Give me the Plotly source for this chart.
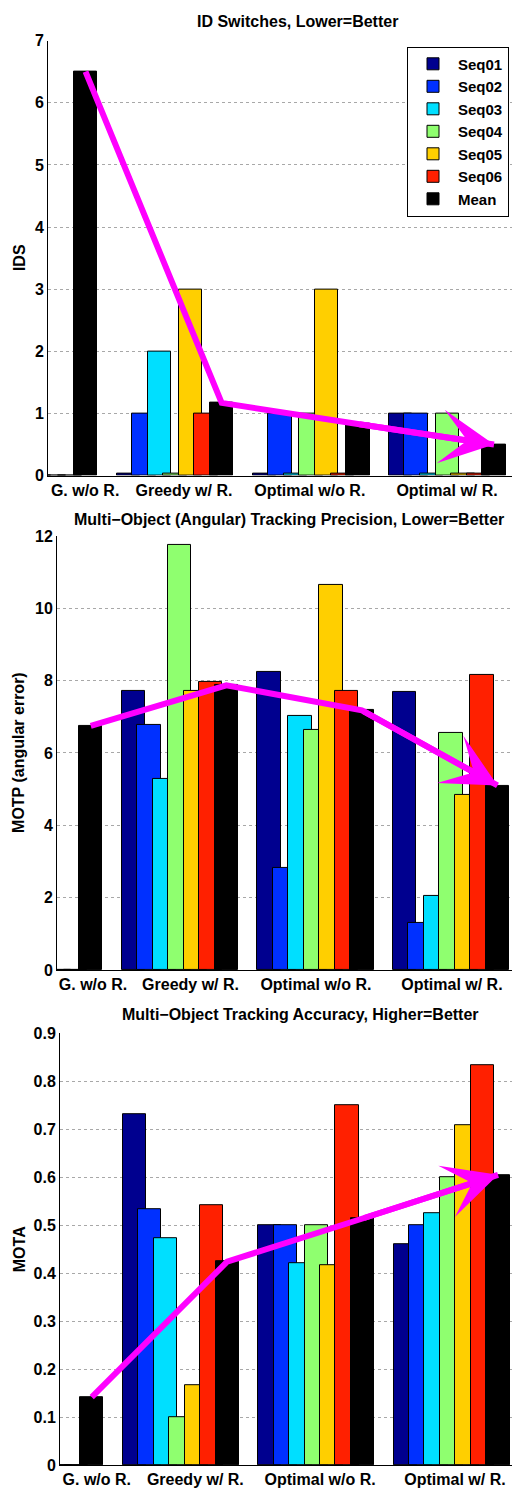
import plotly.graph_objects as go

# ---------------- data ----------------
groups = ["G. w/o R.", "Greedy w/ R.", "Optimal w/o R.", "Optimal w/ R."]
series = ["Seq01", "Seq02", "Seq03", "Seq04", "Seq05", "Seq06", "Mean"]
colors = ["#00008F", "#0030FF", "#00DFFF", "#8FFF6F", "#FFCF00", "#FF2000", "#000000"]

# ID switches (one row per series, one value per group)
ids_seq01 = [0, 0.03, 0.03, 1]
ids_seq02 = [0, 1, 1, 1]
ids_seq03 = [0, 2, 0.03, 0.03]
ids_seq04 = [0, 0.03, 1, 1]
ids_seq05 = [0, 3, 3, 0.03]
ids_seq06 = [0, 1, 0.03, 0.03]
ids_mean = [6.5, 1.17, 0.83, 0.5]

# MOTP (angular error)
motp_seq01 = [0, 7.71, 8.24, 7.69]
motp_seq02 = [0, 6.78, 2.83, 1.31]
motp_seq03 = [0, 5.29, 7.03, 2.05]
motp_seq04 = [0, 11.76, 6.64, 6.56]
motp_seq05 = [0, 7.72, 10.65, 4.84]
motp_seq06 = [0, 7.96, 7.71, 8.15]
motp_mean = [6.75, 7.87, 7.18, 5.10]

# MOTA
mota_seq01 = [0, 0.731, 0.50, 0.461]
mota_seq02 = [0, 0.533, 0.50, 0.50]
mota_seq03 = [0, 0.473, 0.42, 0.526]
mota_seq04 = [0, 0.0995, 0.50, 0.60]
mota_seq05 = [0, 0.166, 0.416, 0.708]
mota_seq06 = [0, 0.5416, 0.75, 0.833]
mota_mean = [0.142, 0.424, 0.514, 0.605]

ids_rows = [ids_seq01, ids_seq02, ids_seq03, ids_seq04, ids_seq05, ids_seq06, ids_mean]
motp_rows = [motp_seq01, motp_seq02, motp_seq03, motp_seq04, motp_seq05, motp_seq06, motp_mean]
mota_rows = [mota_seq01, mota_seq02, mota_seq03, mota_seq04, mota_seq05, mota_seq06, mota_mean]

# ---------------- figure ----------------
W, H = 512, 1494
FONT = "Liberation Sans, Arial, Helvetica, sans-serif"
xpos = [1, 2, 3, 4]
n = len(series)
step = 0.8 / n
bw = 0.172
mean_off = (n - 1 - (n - 1) / 2) * step

fig = go.Figure()

panels = [
    dict(rows=ids_rows, ax="", title="ID Switches, Lower=Better", ytitle="IDS",
         xl=48, xr=[1.0675, 4.475], yt=33, yb=473, yr=[0, 7], yt_vals=list(range(0, 8)),
         shifts=[0.34, 0.066, -0.01, -0.002], tc=(297.5, 14)),
    dict(rows=motp_rows, ax="2", title="Multi\u2212Object (Angular) Tracking Precision, Lower=Better",
         ytitle="MOTP (angular error)",
         xl=57, xr=[1.094, 4.45], yt=534, yb=973, yr=[0, 12], yt_vals=list(range(0, 13, 2)),
         shifts=[0.36, 0.079, 0.004, 0.007], tc=(288.5, 517)),
    dict(rows=mota_rows, ax="3", title="Multi\u2212Object Tracking Accuracy, Higher=Better", ytitle="MOTA",
         xl=60, xr=[1.1086, 4.446], yt=1037, yb=1474, yr=[0, 0.9], yt_vals=[i / 10 for i in range(10)],
         shifts=[0.38, 0.108, 0.029, 0.025], tc=(300.5, 1018)),
]

annotations = []
for pi, p in enumerate(panels):
    xa = "x" + p["ax"]
    ya = "y" + p["ax"]
    for i, (name, col, vals) in enumerate(zip(series, colors, p["rows"])):
        fig.add_trace(go.Bar(
            x=xpos, y=vals, name=name,
            offset=(i - (n - 1) / 2) * step - bw / 2, width=bw,
            marker=dict(color=col, line=dict(color="#000000", width=1)),
            xaxis=xa, yaxis=ya, legendgroup=name, showlegend=(pi == 0),
            hoverinfo="skip",
        ))
    means = p["rows"][-1]
    mx = [x + mean_off for x in xpos]
    fig.add_trace(go.Scatter(
        x=mx, y=means, mode="lines", line=dict(color="#FF00FF", width=6),
        xaxis=xa, yaxis=ya, showlegend=False, hoverinfo="skip",
    ))
    annotations.append(dict(
        x=mx[-1], y=means[-1], ax=mx[-2], ay=means[-2], xref=xa, yref=ya,
        axref=xa, ayref=ya, showarrow=True, arrowhead=3, arrowsize=1.5,
        arrowwidth=6, arrowcolor="#FF00FF", text="", standoff=0,
    ))
    xdom = [p["xl"] / W, 1.0]
    ydom = [1 - p["yb"] / H, 1 - p["yt"] / H]
    xkey = "xaxis" + p["ax"]
    ykey = "yaxis" + p["ax"]
    fig.layout[xkey] = dict(
        domain=xdom, range=p["xr"], anchor=ya, showline=True, linecolor="black", linewidth=1,
        showgrid=False, zeroline=False, ticks="",
        tickvals=[x + s for x, s in zip(xpos, p["shifts"])], ticktext=groups,
        tickfont=dict(family=FONT, size=16, color="black", weight="bold"),
    )
    fig.layout[ykey] = dict(
        domain=ydom, range=p["yr"], anchor=xa, showline=True, linecolor="black", linewidth=1,
        showgrid=True, gridcolor="#a8a8a8", griddash="dot", gridwidth=1, zeroline=False,
        ticks="", tickvals=p["yt_vals"],
        tickfont=dict(family=FONT, size=16, color="black", weight="bold"),
    )
    annotations.append(dict(
        text=p["title"], x=p["tc"][0] / W, y=1 - p["tc"][1] / H, xref="paper", yref="paper",
        showarrow=False, xanchor="center", yanchor="middle",
        font=dict(family=FONT, size=16, color="black", weight="bold"),
    ))
    annotations.append(dict(
        text=p["ytitle"], x=19 / W, y=1 - (p["yt"] + p["yb"]) / 2 / H, xref="paper", yref="paper",
        showarrow=False, xanchor="center", yanchor="middle", textangle=-90,
        font=dict(family=FONT, size=16, color="black", weight="bold"),
    ))

fig.update_layout(
    width=W, height=H, autosize=False,
    margin=dict(l=0, r=0, t=0, b=0),
    paper_bgcolor="white", plot_bgcolor="white",
    barmode="overlay", bargap=0,
    font=dict(family=FONT, size=16, color="black"),
    annotations=annotations,
    legend=dict(
        x=509 / W, y=1 - 39 / H, xanchor="right", yanchor="top",
        bgcolor="white", bordercolor="black", borderwidth=1,
        font=dict(family=FONT, size=15, color="black", weight="bold"),
        tracegroupgap=0, itemwidth=40,
    ),
)

page_fix = (
    "document.documentElement.style.margin='0';"
    "document.documentElement.style.overflow='hidden';"
    "document.body.style.margin='0';"
    "document.body.style.padding='0';"
    "document.body.style.overflow='hidden';"
    "var gd=document.getElementById('{plot_id}');"
    "gd.style.position='fixed';gd.style.left='0px';gd.style.top='0px';"
)

fig.write_html(
    "out.html",
    config={"displayModeBar": False},
    post_script=page_fix,
)
